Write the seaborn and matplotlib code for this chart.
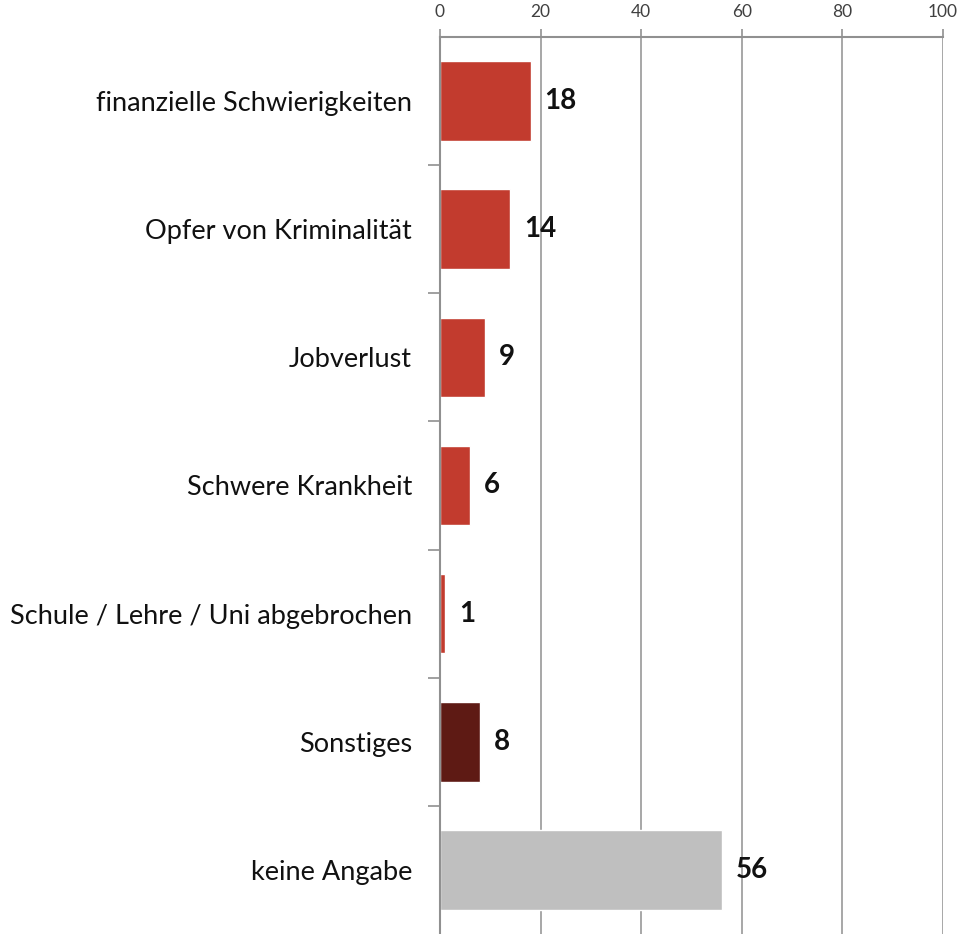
import numpy as np
import pandas as pd
import seaborn as sns
import matplotlib.pyplot as plt

categories = ["finanzielle Schwierigkeiten", "Opfer von Kriminalität", "Jobverlust",
              "Schwere Krankheit", "Schule / Lehre / Uni abgebrochen", "Sonstiges",
              "keine Angabe"]
values = [18, 14, 9, 6, 1, 8, 56]
colors = ["#C23B2E", "#C23B2E", "#C23B2E", "#C23B2E", "#C23B2E", "#5E1A14", "#BFBFBF"]
xticks = [0, 20, 40, 60, 80, 100]

df = pd.DataFrame({"grund": categories, "anteil": values})

sns.set_style("white")
plt.rcParams["font.family"] = ["Lato", "DejaVu Sans"]

fig = plt.figure(figsize=(9.59, 9.34), dpi=100)
ax = fig.add_axes([0.4588, 0.0, 0.5245, 0.9604])

sns.barplot(data=df, x="anteil", y="grund", hue="grund", palette=colors,
            legend=False, width=0.62, saturation=1, ax=ax, orient="h")

ax.set_xlim(0, 100)
ax.set_ylim(len(categories) - 0.5, -0.5)
ax.set_xlabel("")
ax.set_ylabel("")

# x axis on top
ax.xaxis.tick_top()
ax.set_xticks(xticks)
ax.set_xticklabels([str(t) for t in xticks], fontsize=12.5, color="#404040")
ax.tick_params(axis="x", top=True, direction="out", length=6, width=1.2,
               color="#909090", pad=6)
ax.grid(axis="x", color="#A0A0A0", linewidth=1.3)
ax.set_axisbelow(True)

# category labels centered, ticks at boundaries
ax.set_yticks(range(len(categories)))
ax.set_yticklabels(categories, fontsize=19.5, color="#111111")
ax.tick_params(axis="y", which="major", length=0, pad=20)
ax.set_yticks(np.arange(0.5, len(categories) - 0.5, 1), minor=True)
ax.tick_params(axis="y", which="minor", left=True, direction="out", length=9,
               width=1.2, color="#909090")

for side in ["bottom", "right"]:
    ax.spines[side].set_visible(False)
for side in ["top", "left"]:
    ax.spines[side].set_color("#909090")
    ax.spines[side].set_linewidth(1.5)

for i, v in enumerate(values):
    ax.text(v + 2.8, i, str(v), va="center", ha="left", fontsize=20,
            fontweight="bold", color="#111111")

fig.savefig("out.png", dpi=100)
